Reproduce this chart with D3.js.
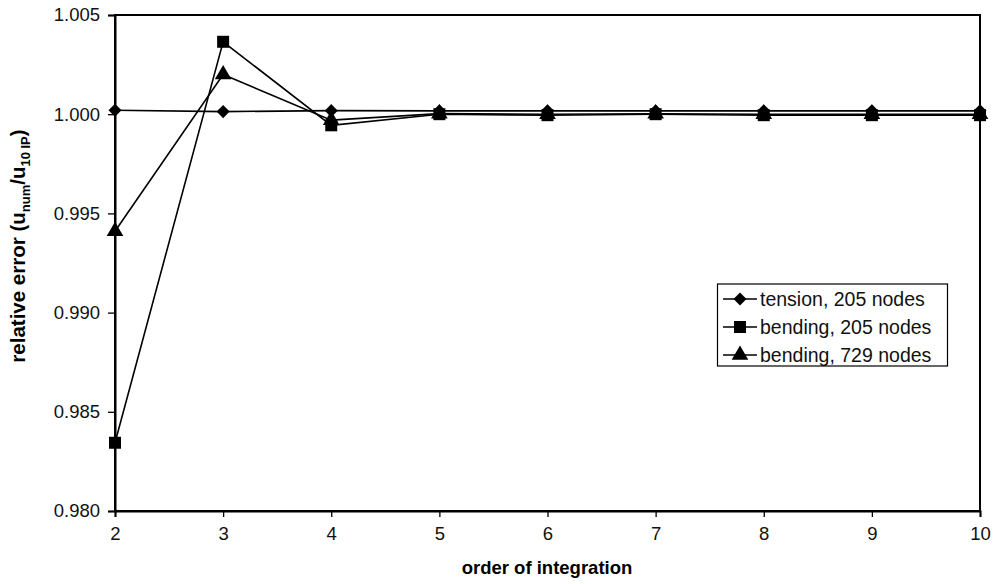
<!DOCTYPE html>
<html><head><meta charset="utf-8">
<script src="https://cdn.jsdelivr.net/npm/d3@7"></script>
<style>body{margin:0;background:#fff}svg{display:block}text{font-family:"Liberation Sans",Arial,sans-serif}</style>
</head><body>
<svg id="c" width="994" height="584"></svg>
<script>
const orders = [2,3,4,5,6,7,8,9,10];
const tension205 = [1.00020,1.00013,1.00018,1.00017,1.00017,1.00017,1.00017,1.00017,1.00017];
const bending205 = [0.98344,1.00365,0.99944,1.00000,0.99995,1.00000,0.99995,0.99995,0.99995];
const bending729 = [0.99410,1.00200,0.99970,1.00003,1.00000,1.00002,1.00000,1.00000,1.00000];
const seriesNames = ["tension, 205 nodes","bending, 205 nodes","bending, 729 nodes"];
const yTicks = [0.980,0.985,0.990,0.995,1.000,1.005];
const xTicks = [2,3,4,5,6,7,8,9,10];

const svg = d3.select("#c");
const L=115,R=980,T=15,B=511;
const x = d3.scaleLinear().domain([2,10]).range([L,R]);
const y = d3.scaleLinear().domain([0.980,1.005]).range([B,T]);

svg.append("rect").attr("x",L).attr("y",T).attr("width",R-L).attr("height",B-T)
  .attr("fill","none").attr("stroke","#000").attr("stroke-width",2);

const yAxis = svg.append("g").attr("transform",`translate(${L},0)`)
  .call(d3.axisLeft(y).tickValues(yTicks).tickFormat(d3.format(".3f")).tickSize(7).tickPadding(8));
const xAxis = svg.append("g").attr("transform",`translate(0,${B})`)
  .call(d3.axisBottom(x).tickValues(xTicks).tickFormat(d3.format("d")).tickSize(6).tickPadding(10));
[yAxis,xAxis].forEach(g=>{
  g.select(".domain").attr("stroke","#000").attr("stroke-width",2);
  g.selectAll(".tick line").attr("stroke","#000").attr("stroke-width",1.3);
  g.selectAll(".tick text").attr("font-size",18.5).attr("fill","#111").attr("font-family","Liberation Sans, Arial, sans-serif");
});

const data = [tension205,bending205,bending729];
function markerPath(k){
  if(k===0) return d3.symbol().type(d3.symbolSquare).size(85)();
  if(k===1) return d3.symbol().type(d3.symbolSquare).size(144)();
  return d3.symbol().type(d3.symbolTriangle).size(120)();
}
const rot = [45,0,0];
const line = d3.line().x((d,i)=>x(orders[i])).y(d=>y(d));
data.forEach((s)=>{
  svg.append("path").datum(s).attr("d",line).attr("fill","none").attr("stroke","#000").attr("stroke-width",1.6);
});
data.forEach((s,k)=>{
  svg.append("g").selectAll("path").data(s).join("path")
    .attr("transform",(d,i)=>`translate(${x(orders[i])},${y(d)}) rotate(${rot[k]})`)
    .attr("d",markerPath(k)).attr("fill","#000");
});

const lg = svg.append("g");
lg.append("rect").attr("x",717.5).attr("y",284).attr("width",230).attr("height",82)
  .attr("fill","#fff").attr("stroke","#000").attr("stroke-width",1.2);
seriesNames.forEach((n,k)=>{
  const yy = 299 + k*28;
  lg.append("line").attr("x1",723).attr("x2",757).attr("y1",yy).attr("y2",yy).attr("stroke","#000").attr("stroke-width",1.6);
  lg.append("path").attr("transform",`translate(740,${yy}) rotate(${rot[k]})`).attr("d",markerPath(k)).attr("fill","#000");
  lg.append("text").attr("x",760).attr("y",yy).attr("dy","0.36em").attr("font-size",19.5).attr("fill","#111").text(n);
});

svg.append("text").attr("x",547).attr("y",574).attr("text-anchor","middle")
  .attr("font-size",18.5).attr("font-weight","bold").text("order of integration");
const yt = svg.append("text").attr("transform","translate(25,246) rotate(-90)").attr("text-anchor","middle")
  .attr("font-size",20.5).attr("font-weight","bold");
yt.append("tspan").text("relative error (u");
yt.append("tspan").attr("font-size",13).attr("dy",5).text("num");
yt.append("tspan").attr("dy",-5).text("/u");
yt.append("tspan").attr("font-size",13).attr("dy",5).text("10 IP");
yt.append("tspan").attr("dy",-5).text(")");
</script>
</body></html>
